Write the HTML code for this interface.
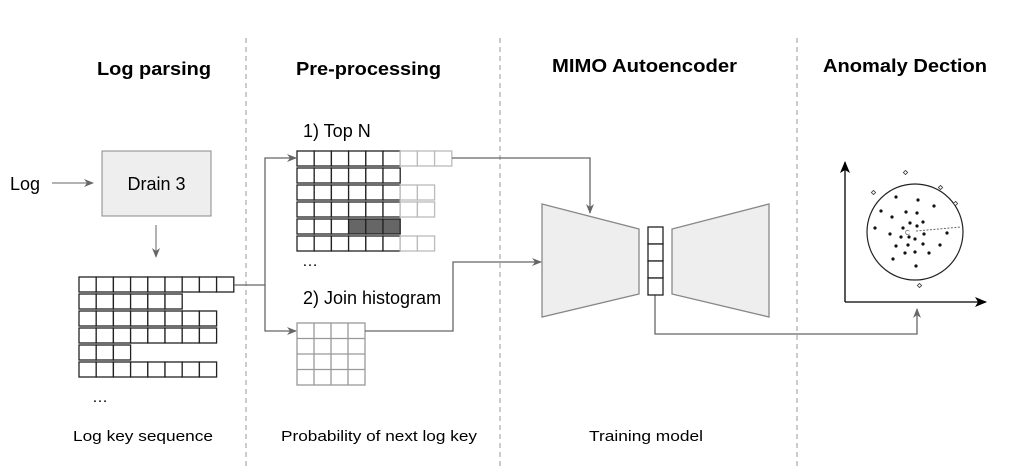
<!DOCTYPE html>
<html><head><meta charset="utf-8"><style>
html,body{margin:0;padding:0;background:#fff;}
svg{display:block;font-family:"Liberation Sans",sans-serif;}
</style></head><body>
<svg width="1012" height="468" viewBox="0 0 1012 468" xmlns="http://www.w3.org/2000/svg">
<defs>
<marker id="a" markerWidth="10" markerHeight="8" refX="9" refY="4" orient="auto" markerUnits="userSpaceOnUse"><path d="M0,0 L10,4 L0,8 L3,4 Z" fill="#666"/></marker>
<marker id="b" markerWidth="12" markerHeight="10" refX="11" refY="5" orient="auto" markerUnits="userSpaceOnUse"><path d="M0,0 L12,5 L0,10 L3,5 Z" fill="#000"/></marker>
</defs>
<g stroke="#999" stroke-dasharray="5,4" stroke-width="1">
<line x1="246" y1="38" x2="246" y2="468"/><line x1="500" y1="38" x2="500" y2="468"/><line x1="797" y1="38" x2="797" y2="468"/>
</g>
<g font-weight="bold" font-size="18" fill="#000">
<text x="97" y="75" textLength="114" lengthAdjust="spacingAndGlyphs">Log parsing</text>
<text x="296" y="75" textLength="145" lengthAdjust="spacingAndGlyphs">Pre-processing</text>
<text x="552" y="72" textLength="185" lengthAdjust="spacingAndGlyphs">MIMO Autoencoder</text>
<text x="823" y="72" textLength="164" lengthAdjust="spacingAndGlyphs">Anomaly Dection</text>
</g>
<g font-size="15" fill="#000">
<text x="73" y="441" textLength="140" lengthAdjust="spacingAndGlyphs">Log key sequence</text>
<text x="281" y="441" textLength="196" lengthAdjust="spacingAndGlyphs">Probability of next log key</text>
<text x="589" y="441" textLength="114" lengthAdjust="spacingAndGlyphs">Training model</text>
</g>
<text x="10" y="190" font-size="18">Log</text>
<line x1="52" y1="183" x2="93" y2="183" stroke="#666" marker-end="url(#a)"/>
<rect x="102" y="151" width="109" height="65" fill="#eee" stroke="#888"/>
<text x="156.5" y="190" font-size="18" text-anchor="middle">Drain 3</text>
<line x1="156" y1="225" x2="156" y2="257" stroke="#666" marker-end="url(#a)"/>
<text x="303" y="137" font-size="18">1) Top N</text>
<text x="303" y="304" font-size="18">2) Join histogram</text>
<text x="92" y="402" font-size="16">…</text>
<text x="302" y="266" font-size="16">…</text>
<g id="cells" fill="#fff" stroke-width="1.3">
<!-- left grid -->
<g stroke="#222">
<rect x="79" y="277" width="17.2" height="15"/><rect x="96.2" y="277" width="17.2" height="15"/><rect x="113.4" y="277" width="17.2" height="15"/><rect x="130.6" y="277" width="17.2" height="15"/><rect x="147.8" y="277" width="17.2" height="15"/><rect x="165" y="277" width="17.2" height="15"/><rect x="182.2" y="277" width="17.2" height="15"/><rect x="199.4" y="277" width="17.2" height="15"/><rect x="216.6" y="277" width="17.2" height="15"/>
<rect x="79" y="294" width="17.2" height="15"/><rect x="96.2" y="294" width="17.2" height="15"/><rect x="113.4" y="294" width="17.2" height="15"/><rect x="130.6" y="294" width="17.2" height="15"/><rect x="147.8" y="294" width="17.2" height="15"/><rect x="165" y="294" width="17.2" height="15"/>
<rect x="79" y="311" width="17.2" height="15"/><rect x="96.2" y="311" width="17.2" height="15"/><rect x="113.4" y="311" width="17.2" height="15"/><rect x="130.6" y="311" width="17.2" height="15"/><rect x="147.8" y="311" width="17.2" height="15"/><rect x="165" y="311" width="17.2" height="15"/><rect x="182.2" y="311" width="17.2" height="15"/><rect x="199.4" y="311" width="17.2" height="15"/>
<rect x="79" y="328" width="17.2" height="15"/><rect x="96.2" y="328" width="17.2" height="15"/><rect x="113.4" y="328" width="17.2" height="15"/><rect x="130.6" y="328" width="17.2" height="15"/><rect x="147.8" y="328" width="17.2" height="15"/><rect x="165" y="328" width="17.2" height="15"/><rect x="182.2" y="328" width="17.2" height="15"/><rect x="199.4" y="328" width="17.2" height="15"/>
<rect x="79" y="345" width="17.2" height="15"/><rect x="96.2" y="345" width="17.2" height="15"/><rect x="113.4" y="345" width="17.2" height="15"/>
<rect x="79" y="362" width="17.2" height="15"/><rect x="96.2" y="362" width="17.2" height="15"/><rect x="113.4" y="362" width="17.2" height="15"/><rect x="130.6" y="362" width="17.2" height="15"/><rect x="147.8" y="362" width="17.2" height="15"/><rect x="165" y="362" width="17.2" height="15"/><rect x="182.2" y="362" width="17.2" height="15"/><rect x="199.4" y="362" width="17.2" height="15"/>
</g>
</g>
<!-- top N grid -->
<g stroke-width="1.3">
<g stroke="#222" fill="#fff">
<rect x="297" y="151" width="17.2" height="15"/><rect x="314.2" y="151" width="17.2" height="15"/><rect x="331.4" y="151" width="17.2" height="15"/><rect x="348.6" y="151" width="17.2" height="15"/><rect x="365.8" y="151" width="17.2" height="15"/><rect x="383" y="151" width="17.2" height="15"/>
<rect x="297" y="168" width="17.2" height="15"/><rect x="314.2" y="168" width="17.2" height="15"/><rect x="331.4" y="168" width="17.2" height="15"/><rect x="348.6" y="168" width="17.2" height="15"/><rect x="365.8" y="168" width="17.2" height="15"/><rect x="383" y="168" width="17.2" height="15"/>
<rect x="297" y="185" width="17.2" height="15"/><rect x="314.2" y="185" width="17.2" height="15"/><rect x="331.4" y="185" width="17.2" height="15"/><rect x="348.6" y="185" width="17.2" height="15"/><rect x="365.8" y="185" width="17.2" height="15"/><rect x="383" y="185" width="17.2" height="15"/>
<rect x="297" y="202" width="17.2" height="15"/><rect x="314.2" y="202" width="17.2" height="15"/><rect x="331.4" y="202" width="17.2" height="15"/><rect x="348.6" y="202" width="17.2" height="15"/><rect x="365.8" y="202" width="17.2" height="15"/><rect x="383" y="202" width="17.2" height="15"/>
<rect x="297" y="219" width="17.2" height="15"/><rect x="314.2" y="219" width="17.2" height="15"/><rect x="331.4" y="219" width="17.2" height="15"/>
<rect x="348.6" y="219" width="17.2" height="15" fill="#666"/><rect x="365.8" y="219" width="17.2" height="15" fill="#666"/><rect x="383" y="219" width="17.2" height="15" fill="#666"/>
<rect x="297" y="236" width="17.2" height="15"/><rect x="314.2" y="236" width="17.2" height="15"/><rect x="331.4" y="236" width="17.2" height="15"/><rect x="348.6" y="236" width="17.2" height="15"/><rect x="365.8" y="236" width="17.2" height="15"/><rect x="383" y="236" width="17.2" height="15"/>
</g>
<g stroke="#bbb" fill="#fff">
<rect x="400.2" y="151" width="17.2" height="15"/><rect x="417.4" y="151" width="17.2" height="15"/><rect x="434.6" y="151" width="17.2" height="15"/>
<rect x="400.2" y="185" width="17.2" height="15"/><rect x="417.4" y="185" width="17.2" height="15"/>
<rect x="400.2" y="202" width="17.2" height="15"/><rect x="417.4" y="202" width="17.2" height="15"/>
<rect x="400.2" y="236" width="17.2" height="15"/><rect x="417.4" y="236" width="17.2" height="15"/>
</g>
</g>
<!-- histogram -->
<g stroke="#999" fill="#fff" stroke-width="1.3">
<rect x="297" y="323" width="68" height="62"/>
<line x1="314" y1="323" x2="314" y2="385"/><line x1="331" y1="323" x2="331" y2="385"/><line x1="348" y1="323" x2="348" y2="385"/>
<line x1="297" y1="338.5" x2="365" y2="338.5"/><line x1="297" y1="354" x2="365" y2="354"/><line x1="297" y1="369.5" x2="365" y2="369.5"/>
</g>
<!-- connectors -->
<g fill="none" stroke="#666" stroke-width="1.3">
<polyline points="234,285 265,285 265,158 296,158" marker-end="url(#a)"/>
<polyline points="265,285 265,331 296,331" marker-end="url(#a)"/>
<polyline points="452,158 590,158 590,213" marker-end="url(#a)"/>
<polyline points="365,331 453,331 453,262 541,262" marker-end="url(#a)"/>
<polyline points="655,295 655,334 917,334 917,309" marker-end="url(#a)"/>
</g>
<!-- autoencoder -->
<polygon points="542,204 639,229 639,294 542,317" fill="#eee" stroke="#888" stroke-width="1.3"/>
<polygon points="672,229 769,204 769,317 672,294" fill="#eee" stroke="#888" stroke-width="1.3"/>
<g stroke="#222" fill="#fff" stroke-width="1.3">
<rect x="648" y="227" width="15" height="17"/><rect x="648" y="244" width="15" height="17"/><rect x="648" y="261" width="15" height="17"/><rect x="648" y="278" width="15" height="17"/>
</g>
<!-- anomaly plot -->
<line x1="845" y1="302" x2="845" y2="162" stroke="#000" stroke-width="1.3" marker-end="url(#b)"/>
<line x1="845" y1="302" x2="986" y2="302" stroke="#000" stroke-width="1.3" marker-end="url(#b)"/>
<circle cx="915" cy="232" r="48" fill="none" stroke="#222" stroke-width="1.2"/>
<line x1="916" y1="231" x2="961" y2="227" stroke="#666" stroke-dasharray="2,1.5"/>
<text x="905" y="235" font-size="7" fill="#666">C</text>
<g fill="#111">
<circle cx="896" cy="197" r="1.6"/><circle cx="918" cy="200" r="1.6"/><circle cx="934" cy="206" r="1.6"/><circle cx="881" cy="211" r="1.6"/><circle cx="906" cy="212" r="1.6"/><circle cx="917" cy="213" r="1.6"/><circle cx="892" cy="217" r="1.6"/><circle cx="910" cy="223" r="1.6"/><circle cx="923" cy="222" r="1.6"/><circle cx="875" cy="228" r="1.6"/><circle cx="903" cy="228" r="1.6"/><circle cx="917" cy="226" r="1.6"/><circle cx="890" cy="234" r="1.6"/><circle cx="947" cy="233" r="1.6"/><circle cx="924" cy="234" r="1.6"/><circle cx="901" cy="237" r="1.6"/><circle cx="909" cy="237" r="1.6"/><circle cx="915" cy="239" r="1.6"/><circle cx="896" cy="246" r="1.6"/><circle cx="908" cy="245" r="1.6"/><circle cx="923" cy="244" r="1.6"/><circle cx="940" cy="245" r="1.6"/><circle cx="905" cy="253" r="1.6"/><circle cx="915" cy="252" r="1.6"/><circle cx="929" cy="253" r="1.6"/><circle cx="893" cy="259" r="1.6"/><circle cx="916" cy="266" r="1.6"/>
</g>
<g fill="#fff" stroke="#333" stroke-width="0.8">
<rect x="904" y="171" width="3" height="3" transform="rotate(45 905.5 172.5)"/>
<rect x="872" y="191" width="3" height="3" transform="rotate(45 873.5 192.5)"/>
<rect x="939" y="186" width="3" height="3" transform="rotate(45 940.5 187.5)"/>
<rect x="954" y="202" width="3" height="3" transform="rotate(45 955.5 203.5)"/>
<rect x="918" y="284" width="3" height="3" transform="rotate(45 919.5 285.5)"/>
</g>
</svg>
</body></html>
